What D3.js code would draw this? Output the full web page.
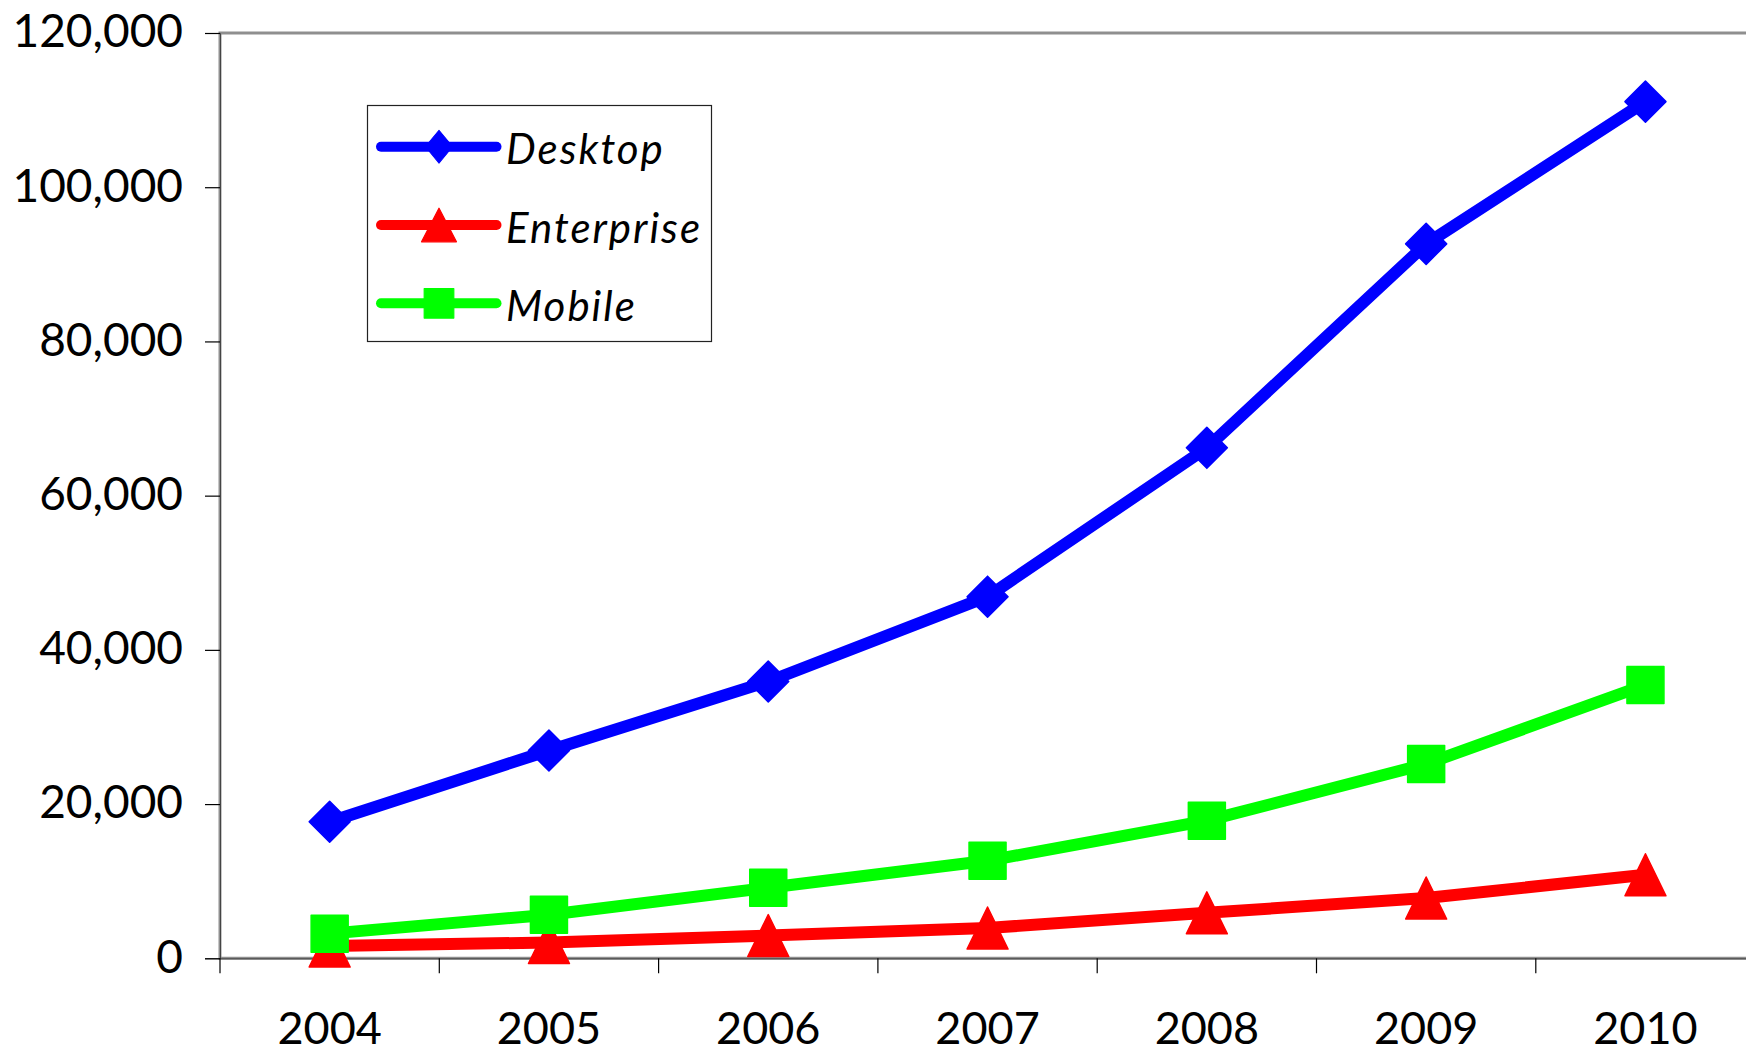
<!DOCTYPE html>
<html>
<head>
<meta charset="utf-8">
<script src="https://cdn.jsdelivr.net/npm/d3@7"></script>
<style>
  html, body { margin: 0; padding: 0; background: #fff; }
  svg { display: block; }
  text { font-family: Lato, "Liberation Sans", sans-serif; fill: #000; }
</style>
</head>
<body>
<svg id="chart" width="1746" height="1055"></svg>
<script>
const years = ["2004", "2005", "2006", "2007", "2008", "2009", "2010"];
const desktop = [17700, 26950, 35900, 46900, 66200, 92650, 111100];
const enterprise = [1600, 2050, 2950, 3930, 5900, 7820, 10830];
const mobile = [3200, 5650, 9150, 12650, 17850, 25200, 35450];
const yTicks = [0, 20000, 40000, 60000, 80000, 100000, 120000];
const seriesNames = ["Desktop", "Enterprise", "Mobile"];
const seriesColors = ["#0000ff", "#ff0000", "#00ff00"];
const seriesShapes = ["diamond", "triangle", "square"];

(function () {
const series = [desktop, enterprise, mobile].map((vals, i) => ({
  name: seriesNames[i], color: seriesColors[i], shape: seriesShapes[i], values: vals
}));

const svg = d3.select("#chart");
const plotLeft = 220, plotTop = 33, plotBottom = 958.3, band = 219.3;
const x = d3.scaleBand().domain(years).range([plotLeft, plotLeft + band * years.length]).paddingInner(0).paddingOuter(0);
const y = d3.scaleLinear().domain([0, 120000]).range([plotBottom, plotTop]);
const cx = d => x(d) + x.bandwidth() / 2;

// plot area border (gray)
svg.append("path")
  .attr("d", `M${x.range()[1]},${plotTop} L${plotLeft},${plotTop} L${plotLeft},${plotBottom} L${x.range()[1]},${plotBottom}`)
  .attr("fill", "none").attr("stroke", "#8f8f8f").attr("stroke-width", 3);

// y axis
const yAxis = svg.append("g").attr("transform", `translate(${plotLeft},0)`)
  .call(d3.axisLeft(y).tickValues(yTicks).tickFormat(d3.format(",")).tickSize(15).tickPadding(22));
yAxis.select(".domain").attr("stroke", "#444").attr("stroke-width", 1);
yAxis.selectAll(".tick line").attr("stroke", "#000").attr("stroke-width", 1.2);
yAxis.selectAll(".tick text").style("font-size", "46px").attr("dy", "0.3em")
  .style("font-family", "Lato, 'Liberation Sans', sans-serif").attr("fill", "#000");

// x axis
const xAxis = svg.append("g").attr("transform", `translate(0,${plotBottom})`)
  .call(d3.axisBottom(x).tickSize(0).tickPadding(0));
xAxis.select(".domain").attr("stroke", "#444").attr("stroke-width", 1);
xAxis.selectAll(".tick text").style("font-size", "45px").attr("y", 86).attr("dy", 0)
  .style("font-family", "Lato, 'Liberation Sans', sans-serif").attr("fill", "#000");
// category boundary ticks
const bounds = years.map(d => x(d)).concat([x.range()[1]]);
xAxis.selectAll(".btick").data(bounds).enter().append("line")
  .attr("class", "btick")
  .attr("x1", d => d).attr("x2", d => d).attr("y1", 0).attr("y2", 15)
  .attr("stroke", "#000").attr("stroke-width", 1.2);

function markerPath(shape, s) {
  if (shape === "diamond") {
    const r = 20.5 * s;
    return `M0,${-r} L${r},0 L0,${r} L${-r},0 Z`;
  } else if (shape === "triangle") {
    const w = 20.5 * s, h = 21 * s;
    return `M0,${-h} L${w},${h} L${-w},${h} Z`;
  } else {
    const r = 18.5 * s;
    return `M${-r},${-r} L${r},${-r} L${r},${r} L${-r},${r} Z`;
  }
}

const line = d3.line().x((d, i) => cx(years[i])).y(d => y(d));

series.forEach(s => {
  const g = svg.append("g");
  g.append("path").datum(s.values)
    .attr("d", line)
    .attr("fill", "none").attr("stroke", s.color).attr("stroke-width", 12)
    .attr("stroke-linejoin", "round");
  g.selectAll("path.marker").data(s.values).enter().append("path")
    .attr("class", "marker")
    .attr("d", markerPath(s.shape, 1))
    .attr("transform", (d, i) => `translate(${cx(years[i])},${y(d)})`)
    .attr("fill", s.color).attr("stroke", s.color).attr("stroke-width", 1.5)
    .attr("stroke-linejoin", "round");
});

// legend
const lg = svg.append("g");
lg.append("rect").attr("x", 367.5).attr("y", 105.5).attr("width", 344).attr("height", 236)
  .attr("fill", "#fff").attr("stroke", "#222").attr("stroke-width", 1.2);
const legendY = [146.7, 225, 303.3];
series.forEach((s, i) => {
  const ly = legendY[i];
  lg.append("line").attr("x1", 381).attr("x2", 496.5).attr("y1", ly).attr("y2", ly)
    .attr("stroke", s.color).attr("stroke-width", 10).attr("stroke-linecap", "round");
  let sx = 0.8, sy = 0.8;
  if (s.shape === "diamond") { sx = 0.66; sy = 0.8; }
  if (s.shape === "triangle") { sx = 0.85; sy = 0.8; }
  lg.append("path").attr("d", markerPath(s.shape, 1))
    .attr("transform", `translate(439,${ly}) scale(${sx},${sy})`)
    .attr("fill", s.color).attr("stroke", s.color).attr("stroke-width", 1.5)
    .attr("stroke-linejoin", "round");
  lg.append("text").attr("x", 506).attr("y", ly + 17.5)
    .style("font-size", "42px").style("font-style", "italic")
    .style("letter-spacing", "2px")
    .text(s.name);
});
})();
</script>
</body>
</html>
